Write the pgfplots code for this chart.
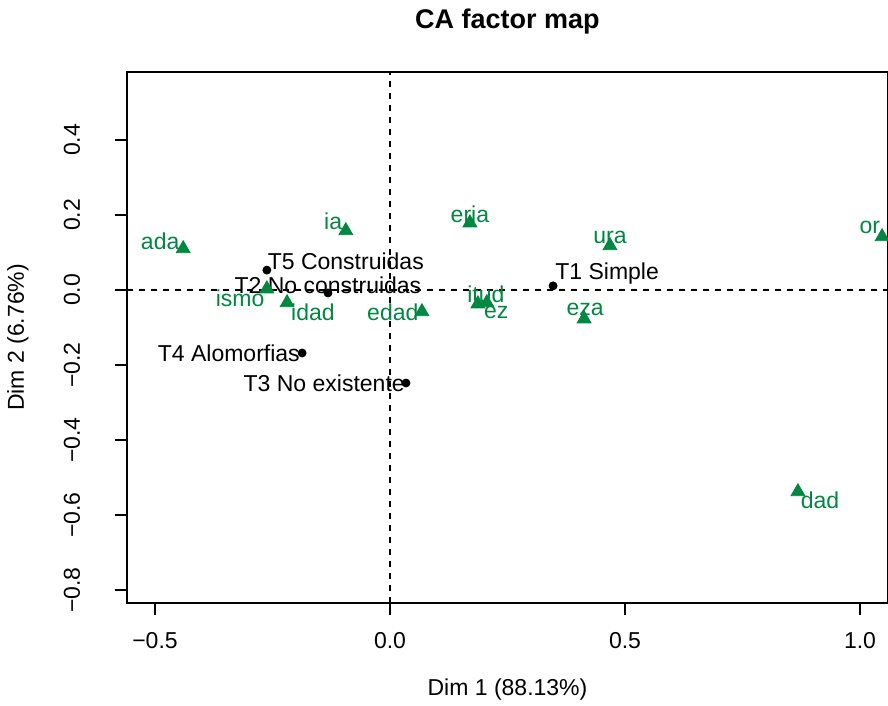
\documentclass[border=0pt]{standalone}
\usepackage{fontspec}
\setmainfont{Liberation Sans}
\usepackage{pgfplots}
\pgfplotsset{compat=1.18}
\definecolor{cagreen}{RGB}{0,135,65}
\newcommand{\lf}{\fontsize{11.5}{13.5}\selectfont}
\begin{document}
\begin{tikzpicture}
\useasboundingbox (-63.5pt,-51.5pt) rectangle (380.5pt,301.5pt);
\begin{axis}[
  at={(0pt,0pt)}, anchor=south west, scale only axis,
  width=380.5pt, height=265.5pt,
  xmin=-0.5596, xmax=1.0596, ymin=-0.8347, ymax=0.5813,
  axis line style={line width=0.8pt},
  tick style={black, line width=0.8pt},
  major tick length=6pt, tick align=outside, tick pos=left,
  xtick={-0.5,0,0.5,1}, xticklabels={−0.5,0.0,0.5,1.0},
  ytick={-0.8,-0.6,-0.4,-0.2,0,0.2,0.4},
  yticklabels={−0.8,−0.6,−0.4,−0.2,0.0,0.2,0.4},
  xticklabel style={anchor=center, yshift=-13pt, font=\lf},
  yticklabel style={xshift=-21.5pt, rotate=90, anchor=center, font=\lf},
  xlabel={Dim 1 (88.13\%)}, ylabel={Dim 2 (6.76\%)},
  xlabel style={at={(axis description cs:0.5,-0.1638)}, anchor=center, font=\lf},
  ylabel style={at={(axis description cs:-0.1432,0.5)}, anchor=center, font=\lf},
  title={CA factor map},
  every axis title shift=0pt,
  title style={at={(axis description cs:0.5,1.0960)}, anchor=center, font=\fontsize{13.5}{16}\selectfont\bfseries},
  clip=false,
]
\addplot[black, line width=0.8pt, dash pattern=on 3pt off 3pt] coordinates {(0,-0.8347) (0,0.5813)};
\addplot[black, line width=0.8pt, dash pattern=on 3pt off 3pt] coordinates {(-0.5596,0) (1.0596,0)};
% row points
\addplot[only marks, mark=*, mark size=2pt, black] coordinates {
(-0.262,0.053) (-0.132,-0.008) (-0.187,-0.168) (0.034,-0.248) (0.347,0.011)};
% column points
\addplot[only marks, mark=triangle*, mark size=4pt, color=cagreen, mark options={draw=cagreen, fill=cagreen}] coordinates {
(-0.440,0.110) (-0.094,0.158) (0.170,0.179) (0.468,0.118) (1.047,0.142)
(-0.262,0.003) (-0.219,-0.034) (0.068,-0.058) (0.187,-0.037) (0.206,-0.034)
(0.413,-0.077) (0.868,-0.538)};
% labels
\node[text=cagreen, font=\lf] at (axis cs:-0.489,0.131) {ada};
\node[text=cagreen, font=\lf] at (axis cs:-0.121,0.184) {ia};
\node[text=cagreen, font=\lf] at (axis cs:0.170,0.203) {eria};
\node[text=cagreen, font=\lf] at (axis cs:0.468,0.141) {ura};
\node[text=cagreen, font=\lf] at (axis cs:1.021,0.168) {or};
\node[text=cagreen, font=\lf] at (axis cs:-0.319,-0.021) {ismo};
\node[text=cagreen, font=\lf] at (axis cs:-0.164,-0.059) {idad};
\node[text=cagreen, font=\lf] at (axis cs:0.006,-0.059) {edad};
\node[text=cagreen, font=\lf] at (axis cs:0.204,-0.011) {itud};
\node[text=cagreen, font=\lf] at (axis cs:0.226,-0.061) {ez};
\node[text=cagreen, font=\lf] at (axis cs:0.415,-0.053) {eza};
\node[text=cagreen, font=\lf] at (axis cs:0.915,-0.560) {dad};
\node[font=\lf] at (axis cs:-0.094,0.077) {T5 Construidas};
\node[font=\lf] at (axis cs:-0.132,0.013) {T2 No construidas};
\node[font=\lf] at (axis cs:-0.343,-0.168) {T4 Alomorfias};
\node[font=\lf] at (axis cs:-0.140,-0.248) {T3 No existente};
\node[font=\lf] at (axis cs:0.462,0.043) {T1 Simple};
\end{axis}
\end{tikzpicture}
\end{document}
